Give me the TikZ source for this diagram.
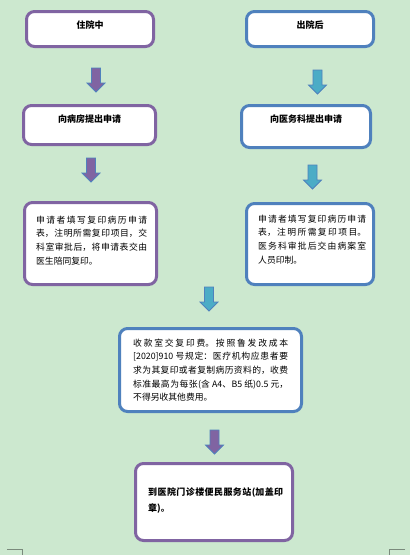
\documentclass[tikz,border=0pt]{standalone}
\usepackage{fontspec}
\newfontfamily\cjk{Noto Sans CJK SC}
\XeTeXlinebreaklocale "zh"
\XeTeXlinebreakskip=0pt plus 2pt
\usetikzlibrary{
  positioning,
  calc
}
\definecolor{pageGreen}{HTML}{CCE8CF}
\definecolor{boxPurple}{HTML}{8064A2}
\definecolor{boxBlue}{HTML}{4F81BD}
\definecolor{arrowTeal}{HTML}{4BACC6}
\definecolor{markGray}{HTML}{7A8A7C}
\tikzset{
  box/.style       = {rectangle, rounded corners=8pt, fill=white,
                      line width=3pt, inner sep=0pt},
  purplebox/.style = {box, draw=boxPurple},
  bluebox/.style   = {box, draw=boxBlue},
  head/.style      = {font=\cjk\bfseries\fontsize{9}{11}\selectfont,
                      inner sep=0pt},
  body/.style      = {font=\cjk\fontsize{8.8}{13.7}\selectfont,
                      inner sep=0pt, align=justify, anchor=north west},
  cropmark/.style  = {draw=markGray, line width=0.8pt},
  pics/blockarrow/.style = {code={
    \draw[line width=0.8pt, draw=boxBlue, fill=#1]
      (-4.5,0) -- (4.5,0) -- (4.5,15) -- (9,15) -- (0,24)
      -- (-9,15) -- (-4.5,15) -- cycle;}}
}
\begin{document}
\begin{tikzpicture}[x=1pt, y=-1pt]
\useasboundingbox (0,0) rectangle (410,555);
\fill[pageGreen] (0,0) rectangle (410,555);

% left column: in hospital
\node[purplebox, minimum width=127pt, minimum height=35pt] (b1l) at (90,29) {};
\node[head] (t1l) at (90,25) {住院中};
\pic (a1l) at (96,68) {blockarrow=boxPurple};
\node[purplebox, minimum width=132pt, minimum height=39pt] (b2l) at (89.5,125) {};
\node[head] (t2l) at (89.5,119) {向病房提出申请};
\pic (a2l) at (91,158) {blockarrow=boxPurple};
\node[purplebox, minimum width=132pt, minimum height=82pt] (b3l) at (90.5,243.5) {};
\node[body, text width=111pt] (t3l) at (36,215.5)
  {申请者填写复印病历申请\linebreak 表，注明所需复印项目，交\linebreak
   科室审批后，将申请表交由\linebreak 医生陪同复印。};

% right column: after discharge
\node[bluebox, minimum width=127pt, minimum height=35pt] (b1r) at (310,29) {};
\node[head] (t1r) at (310,25) {出院后};
\pic (a1r) at (317.5,70) {blockarrow=arrowTeal};
\node[bluebox, minimum width=129pt, minimum height=42pt] (b2r) at (306,126.5) {};
\node[head] (t2r) at (306,119) {向医务科提出申请};
\pic (a2r) at (312.5,165) {blockarrow=arrowTeal};
\node[bluebox, minimum width=127pt, minimum height=81pt] (b3r) at (310,244) {};
\node[body, text width=108pt] (t3r) at (258,214.5)
  {申请者填写复印病历申请\linebreak 表，注明所需复印项目。\linebreak
   医务科审批后交由病案室\linebreak 人员印制。};

% common steps
\pic (a3) at (209,287) {blockarrow=arrowTeal};
\node[bluebox, minimum width=182pt, minimum height=83pt] (b4) at (210.5,370) {};
\node[body, text width=155pt] (t4) at (133,338.5)
  {收款室交复印费。按照鲁发改成本\linebreak{}[2020]910 号规定：医疗机构应患者要\linebreak
   求为其复印或者复制病历资料的，收费\linebreak 标准最高为每张(含 A4、B5 纸)0.5 元，\linebreak
   不得另收其他费用。};
\pic (a4) at (214.5,430) {blockarrow=boxPurple};
\node[purplebox, minimum width=157pt, minimum height=77pt] (b5) at (214,502) {};
\node[body, font=\cjk\bfseries\fontsize{9}{16}\selectfont, text width=135pt] (t5) at (148,487.5)
  {到医院门诊楼便民服务站(加盖印\linebreak 章)。};

% page margin marks
\draw[cropmark] (7,549) -- (22,549) -- (22,555);
\draw[cropmark] (405,549) -- (389,549) -- (389,555);
\end{tikzpicture}
\end{document}
